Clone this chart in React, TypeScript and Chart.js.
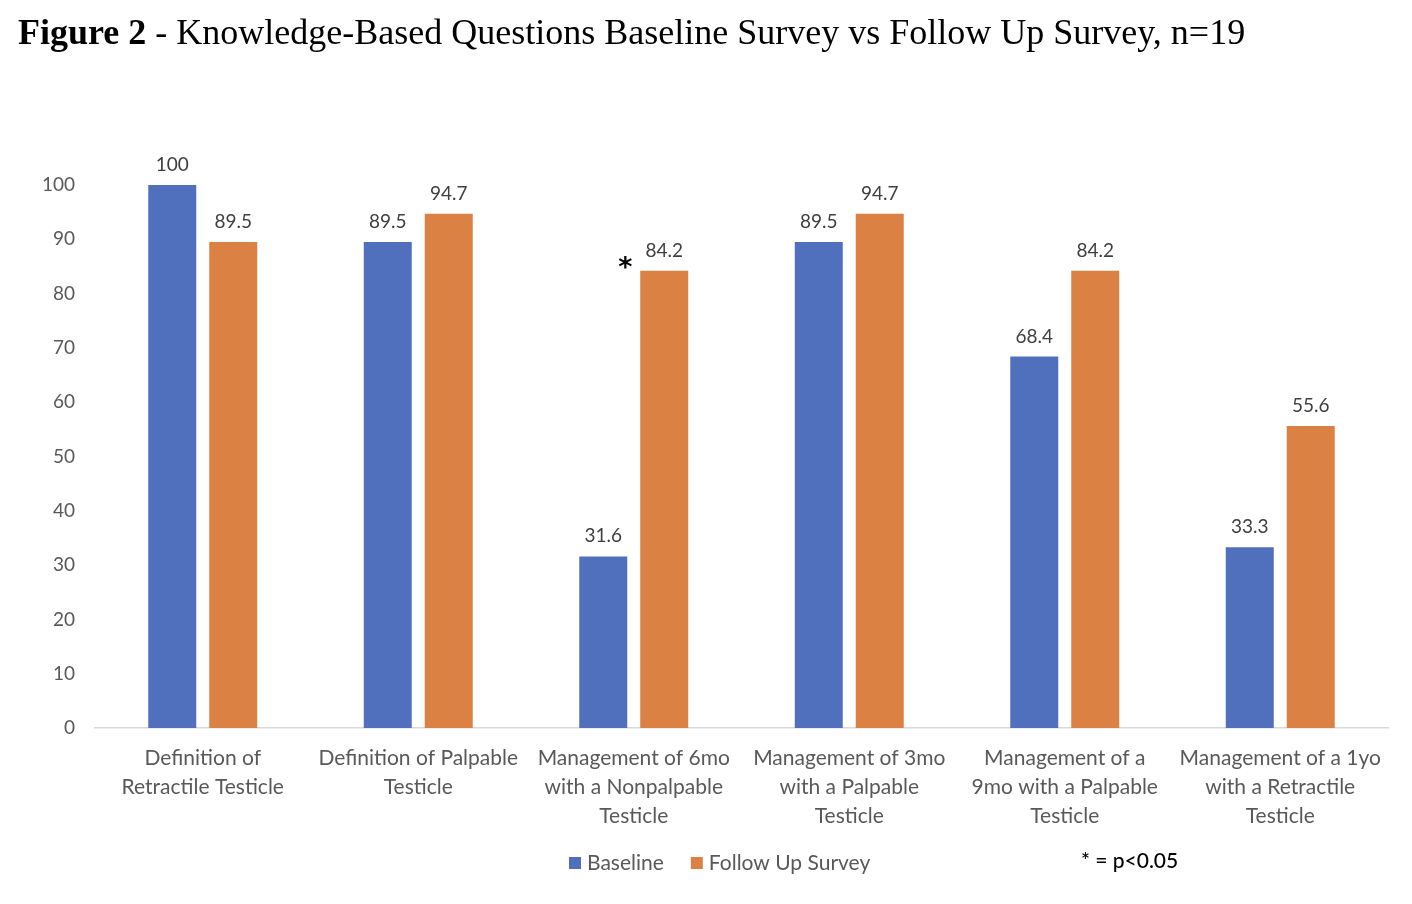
import React, { useEffect, useRef } from 'react';
import { Chart, registerables } from 'chart.js';

Chart.register(...registerables);

const categories: string[][] = [
  ['Definition of', 'Retractile Testicle'],
  ['Definition of Palpable', 'Testicle'],
  ['Management of 6mo', 'with a Nonpalpable', 'Testicle'],
  ['Management of 3mo', 'with a Palpable', 'Testicle'],
  ['Management of a', '9mo with a Palpable', 'Testicle'],
  ['Management of a 1yo', 'with a Retractile', 'Testicle'],
];
const seriesNames = ['Baseline', 'Follow Up Survey'];
const baselineValues = [100, 89.5, 31.6, 89.5, 68.4, 33.3];
const followUpValues = [89.5, 94.7, 84.2, 94.7, 84.2, 55.6];
const significantIndices = [2];
const seriesColors = ['#5070BE', '#DC8144'];
const yMin = 0;
const yMax = 100;
const yStep = 10;
const noteText = '* = p<0.05';

const FONT = 'Lato, "Noto Sans", sans-serif';

const labelPlugin = {
  id: 'customLabels',
  afterDatasetsDraw(chart: any) {
    const ctx = chart.ctx;
    ctx.save();
    ctx.font = `19px ${FONT}`;
    ctx.fillStyle = '#404040';
    ctx.textAlign = 'center';
    ctx.textBaseline = 'alphabetic';
    chart.data.datasets.forEach((ds: any, di: number) => {
      const meta = chart.getDatasetMeta(di);
      meta.data.forEach((bar: any, i: number) => {
        ctx.fillText(String(ds.data[i]), bar.x, bar.y - 14);
      });
    });
    // significance asterisks on follow-up bars
    const meta1 = chart.getDatasetMeta(1);
    ctx.font = `bold 27px "DejaVu Sans", sans-serif`;
    ctx.fillStyle = '#000000';
    ctx.textBaseline = 'alphabetic';
    const m = ctx.measureText('*');
    const off = (m.actualBoundingBoxAscent - m.actualBoundingBoxDescent) / 2;
    significantIndices.forEach((i) => {
      const bar: any = meta1.data[i];
      const left = bar.x - bar.width / 2;
      ctx.fillText('*', left - 15, bar.y - 8 + off);
    });
    ctx.restore();
  },
  afterDraw(chart: any) {
    const ctx = chart.ctx;
    ctx.save();
    ctx.font = `21px ${FONT}`;
    ctx.textBaseline = 'middle';
    ctx.textAlign = 'left';
    const y = 863;
    let x = 569;
    seriesNames.forEach((name, i) => {
      ctx.fillStyle = seriesColors[i];
      ctx.fillRect(x, y - 6, 12, 12);
      ctx.fillStyle = '#595959';
      ctx.fillText(name, x + 18, y);
      x += 18 + ctx.measureText(name).width + 27;
    });
    ctx.fillStyle = '#000000';
    ctx.font = `500 21px ${FONT}`;
    ctx.fillText(noteText, 1081, 861);
    ctx.restore();
  },
};

export default function App() {
  const ref = useRef<HTMLCanvasElement | null>(null);
  useEffect(() => {
    document.body.style.margin = '0';
    const canvas = ref.current!;
    const chart = new Chart(canvas, {
      type: 'bar',
      data: {
        labels: categories,
        datasets: [
          {
            label: seriesNames[0],
            data: baselineValues,
            backgroundColor: seriesColors[0],
            categoryPercentage: 0.566,
            barPercentage: 0.787,
          },
          {
            label: seriesNames[1],
            data: followUpValues,
            backgroundColor: seriesColors[1],
            categoryPercentage: 0.566,
            barPercentage: 0.787,
          },
        ],
      },
      options: {
        animation: false,
        responsive: false,
        maintainAspectRatio: false,
        layout: { padding: { top: 185, right: 24, left: 0, bottom: 0 } },
        plugins: {
          legend: { display: false },
          tooltip: { enabled: false },
          title: { display: false },
        },
        scales: {
          x: {
            grid: { display: false, drawTicks: false },
            border: { display: true, color: '#D9D9D9', width: 1.5 },
            ticks: {
              color: '#595959',
              font: { family: FONT, size: 21, lineHeight: 1.37 },
              padding: 16,
              maxRotation: 0,
              autoSkip: false,
            },
            afterFit(scale: any) {
              scale.height = 176;
            },
          },
          y: {
            min: yMin,
            max: yMax,
            grid: { display: false, drawTicks: false },
            border: { display: false },
            ticks: {
              stepSize: yStep,
              color: '#595959',
              font: { family: FONT, size: 19 },
              padding: 20,
            },
            afterFit(scale: any) {
              scale.width = 95;
            },
          },
        },
      },
      plugins: [labelPlugin],
    });
    return () => chart.destroy();
  }, []);

  return (
    <div style={{ position: 'relative', width: 1412, height: 904, background: '#fff' }}>
      <canvas ref={ref} width={1412} height={904} style={{ position: 'absolute', left: 0, top: 0 }} />
      <div
        style={{
          position: 'absolute',
          left: 18,
          top: 11,
          fontFamily: '"Liberation Serif", "Times New Roman", serif',
          fontSize: 36,
          color: '#000',
          whiteSpace: 'nowrap',
          lineHeight: '42px',
        }}
      >
        <b>Figure 2</b> - Knowledge-Based Questions Baseline Survey vs Follow Up Survey, n=19
      </div>
    </div>
  );
}
